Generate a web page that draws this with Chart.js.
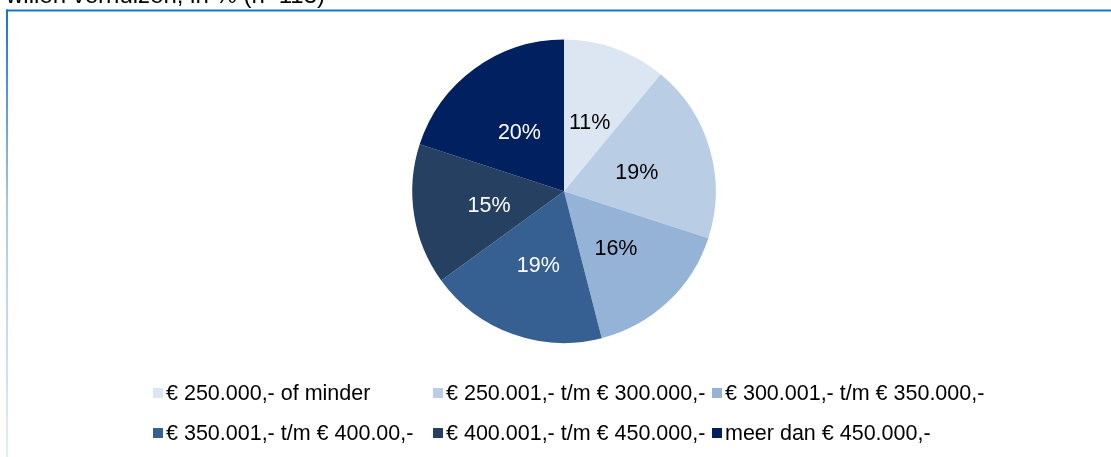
<!DOCTYPE html>
<html lang="nl">
<head>
<meta charset="utf-8">
<title>Prijsklasse woning</title>
<script src="https://cdn.jsdelivr.net/npm/chart.js@4.4.1/dist/chart.umd.min.js"></script>
<style>
  html, body { margin: 0; padding: 0; background: #ffffff; }
  canvas { display: block; }
</style>
</head>
<body>
<canvas id="chart" width="1111" height="457"></canvas>
<script>
// Price classes and share of respondents (%)
const categories = [
  '€ 250.000,- of minder',
  '€ 250.001,- t/m € 300.000,-',
  '€ 300.001,- t/m € 350.000,-',
  '€ 350.001,- t/m € 400.00,-',
  '€ 400.001,- t/m € 450.000,-',
  'meer dan € 450.000,-'
];
const shares = [11, 19, 16, 19, 15, 20];
const sliceColors = ['#dce6f2', '#b9cde5', '#95b3d7', '#376092', '#254061', '#002060'];
const labelColors = ['#000000', '#000000', '#000000', '#ffffff', '#ffffff', '#ffffff'];
const titleText = 'willen verhuizen, in % (n=113)';

const FONT = '"Liberation Sans", Arial, sans-serif';

// Frame lines and the (partly visible) heading above them
const framePlugin = {
  id: 'frame',
  beforeDraw(chart) {
    const ctx = chart.ctx;
    ctx.save();
    ctx.fillStyle = '#000000';
    ctx.font = '24px ' + FONT;
    ctx.textBaseline = 'alphabetic';
    ctx.textAlign = 'left';
    ctx.fillText(titleText, 6, 3);

    ctx.strokeStyle = '#1b74c4';
    ctx.lineWidth = 2;
    ctx.beginPath();
    ctx.moveTo(6, 10.5);
    ctx.lineTo(chart.width, 10.5);
    ctx.stroke();

    const grad = ctx.createLinearGradient(0, 10, 0, chart.height);
    grad.addColorStop(0, '#1b74c4');
    grad.addColorStop(0.45, '#a9c9ec');
    grad.addColorStop(1, '#e4edf9');
    ctx.strokeStyle = grad;
    ctx.beginPath();
    ctx.moveTo(7, 9.5);
    ctx.lineTo(7, chart.height);
    ctx.stroke();
    ctx.restore();
  }
};

// Percentage labels inside each slice
const sliceLabelPlugin = {
  id: 'sliceLabels',
  afterDatasetsDraw(chart) {
    const ctx = chart.ctx;
    const meta = chart.getDatasetMeta(0);
    const data = chart.data.datasets[0].data;
    ctx.save();
    ctx.font = '21.5px ' + FONT;
    ctx.textAlign = 'center';
    ctx.textBaseline = 'middle';
    meta.data.forEach((arc, i) => {
      const p = arc.getProps(['x', 'y', 'startAngle', 'endAngle', 'outerRadius'], true);
      const mid = (p.startAngle + p.endAngle) / 2;
      const r = p.outerRadius * 0.5;
      ctx.fillStyle = labelColors[i];
      ctx.fillText(data[i] + '%', p.x + Math.cos(mid) * r, p.y + Math.sin(mid) * r + 3);
    });
    ctx.restore();
  }
};

// Legend in three fixed columns, two rows
const gridLegendPlugin = {
  id: 'gridLegend',
  afterDraw(chart) {
    const ctx = chart.ctx;
    const cols = [153, 433, 712];
    const rows = [393, 433];
    const box = 10;
    ctx.save();
    ctx.font = '21.5px ' + FONT;
    ctx.textAlign = 'left';
    ctx.textBaseline = 'middle';
    chart.data.labels.forEach((label, i) => {
      const x = cols[i % 3];
      const y = rows[Math.floor(i / 3)];
      ctx.fillStyle = chart.data.datasets[0].backgroundColor[i];
      ctx.fillRect(x, y - box / 2, box, box);
      ctx.fillStyle = '#000000';
      ctx.fillText(label, x + 13, y + 1);
    });
    ctx.restore();
  }
};

new Chart(document.getElementById('chart'), {
  type: 'pie',
  data: {
    labels: categories,
    datasets: [{
      data: shares,
      backgroundColor: sliceColors,
      borderWidth: 0
    }]
  },
  options: {
    responsive: false,
    animation: false,
    layout: { padding: { top: 39.5, bottom: 114, left: 17, right: 0 } },
    plugins: {
      legend: { display: false },
      tooltip: { enabled: false },
      title: { display: false }
    }
  },
  plugins: [framePlugin, sliceLabelPlugin, gridLegendPlugin]
});
</script>
</body>
</html>
